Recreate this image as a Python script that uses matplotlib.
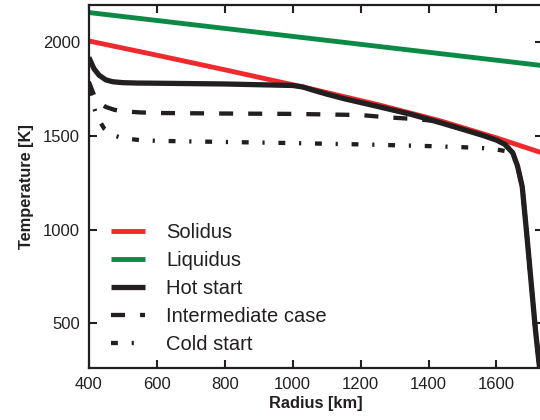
import numpy as np
import matplotlib
matplotlib.use("Agg")
import matplotlib.pyplot as plt

plt.rcParams['font.family'] = ['Liberation Sans', 'DejaVu Sans']

# Solidus / liquidus
sol_r = [400, 600, 800, 1052, 1250, 1433, 1600, 1737]
sol_T = [2008, 1932, 1854, 1753, 1668, 1582, 1490, 1408]
liq_r = [400, 1737]
liq_T = [2160, 1876]

# Hot start
hot_r = [400, 415, 430, 450, 470, 500, 540, 600, 800, 1000, 1030, 1060, 1100, 1150, 1250, 1350, 1433,
         1500, 1560, 1600, 1625, 1648, 1662, 1676, 1689, 1703, 1715, 1727, 1737]
hot_T = [1920, 1860, 1825, 1800, 1790, 1785, 1783, 1782, 1778, 1770, 1762, 1745, 1724, 1700, 1658, 1615, 1572,
         1536, 1503, 1478, 1455, 1410, 1340, 1228, 980, 700, 460, 260, 100]

# Intermediate case
int_r = [400, 415, 430, 450, 475, 500, 550, 600, 800, 1000, 1200, 1277, 1365, 1420,
         1500, 1560, 1600, 1625, 1648, 1662, 1676, 1689, 1703, 1715, 1727, 1737]
int_T = [1790, 1720, 1680, 1655, 1640, 1632, 1626, 1623, 1620, 1618, 1612, 1600, 1590, 1580,
         1536, 1503, 1478, 1455, 1410, 1340, 1228, 980, 700, 460, 260, 100]

# Cold start
cold_r = [400, 410, 425, 445, 470, 500, 550, 600, 800, 1000, 1200, 1400, 1500, 1560, 1600,
          1630, 1648, 1662, 1676, 1689, 1703, 1715, 1727, 1737]
cold_T = [1750, 1680, 1600, 1540, 1505, 1488, 1478, 1474, 1468, 1462, 1455, 1446, 1440, 1435, 1428,
          1418, 1400, 1340, 1228, 980, 700, 460, 260, 100]

fig = plt.figure(figsize=(5.4, 4.2), dpi=100)
ax = fig.add_axes([0.1645, 0.124, 0.841, 0.864])

ink = '#231f20'
ax.plot(sol_r, sol_T, color='#ee2a2e', lw=3.5, label='Solidus', solid_capstyle='butt')
ax.plot(liq_r, liq_T, color='#0b8a45', lw=3.5, label='Liquidus', solid_capstyle='butt')
ax.plot(hot_r, hot_T, color=ink, lw=3.8, label='Hot start', solid_capstyle='butt')
ax.plot(int_r, int_T, color=ink, lw=3.1, label='Intermediate case',
        dashes=(3.25, 3.5), dash_capstyle='butt')
ax.plot(cold_r, cold_T, color=ink, lw=3.1, label='Cold start',
        dashes=(1.6, 3.2, 0.5, 3.2), dash_capstyle='butt')

ax.set_xlim(400, 1737)
ax.set_ylim(260, 2200)
ax.set_xticks([400, 600, 800, 1000, 1200, 1400, 1600])
ax.set_yticks([500, 1000, 1500, 2000])
ax.tick_params(direction='in', length=6, width=1.5, top=True, right=True,
               labelsize=12, colors=ink, pad=6.5)
for s in ax.spines.values():
    s.set_linewidth(1.6)
    s.set_color(ink)

ax.set_xlabel('Radius [km]', fontsize=11.8, fontweight='bold', color=ink, labelpad=3)
ax.set_ylabel('Temperature [K]', fontsize=11.8, fontweight='bold', color=ink, labelpad=6)

leg = ax.legend(loc='lower left', bbox_to_anchor=(111 / 540, 66 / 420),
                bbox_transform=fig.transFigure, frameon=False, fontsize=14.5,
                handlelength=1.7, handletextpad=1.05, labelspacing=0.45,
                borderaxespad=0, borderpad=0)
for t in leg.get_texts():
    t.set_color(ink)

fig.savefig('out.png', dpi=100)
